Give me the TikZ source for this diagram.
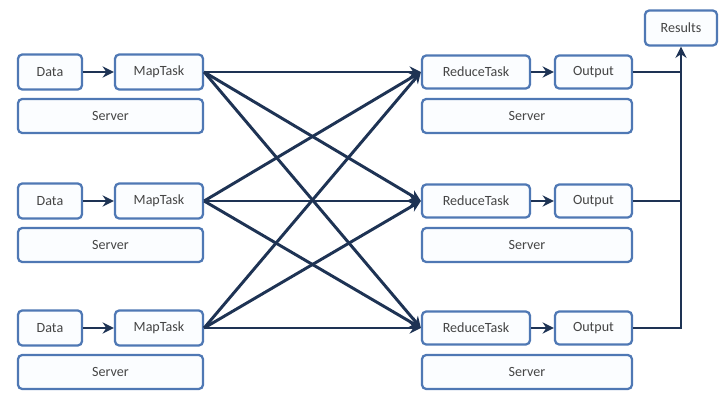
\documentclass[tikz,border=0pt]{standalone}
\usepackage{fontspec}
\setmainfont{Carlito}
\usetikzlibrary{arrows.meta,positioning}

\definecolor{boxline}{HTML}{4F78B4}
\definecolor{boxfill}{HTML}{FBFDFF}
\definecolor{wire}{HTML}{1E3354}
\definecolor{label}{HTML}{454545}

\begin{document}
\begin{tikzpicture}[x=0.025cm,y=-0.025cm]

\tikzset{box/.style={draw=boxline, fill=boxfill, line width=1.6pt, rounded corners=3pt,
                     inner sep=0pt, text=label,
                     font=\fontsize{10}{11}\selectfont},
         wire/.style={draw=wire, line width=2.1pt, -{Stealth[length=8pt,width=8pt]}}}

\useasboundingbox (0,0) rectangle (719,393);

% map side, one row per server
\foreach \n/\y in {1/72, 2/201, 3/328} {
  \node[box, minimum width=64*0.025cm, minimum height=35*0.025cm] (data\n) at (50,\y) {Data};
  \node[box, minimum width=88*0.025cm, minimum height=35*0.025cm] (map\n) at (159,\y) {MapTask};
  \node[box, minimum width=185*0.025cm, minimum height=34*0.025cm] (mserver\n) at (110.5,\y+44) {Server};
  \draw[wire] (data\n) -- (map\n);
}

% reduce side
\foreach \n/\y in {1/72, 2/201, 3/328} {
  \node[box, minimum width=108*0.025cm, minimum height=33*0.025cm] (reduce\n) at (476,\y) {ReduceTask};
  \node[box, minimum width=77*0.025cm, minimum height=33*0.025cm] (out\n) at (593.5,\y) {Output};
  \node[box, minimum width=210*0.025cm, minimum height=34*0.025cm] (rserver\n) at (527,\y+44) {Server};
  \draw[wire] (reduce\n) -- (out\n);
}

\node[box, minimum width=72*0.025cm, minimum height=35*0.025cm] (results) at (681,28) {Results};

% shuffle: every map task feeds every reduce task
\foreach \i in {1,2,3}
  \foreach \j in {1,2,3}
    \draw[wire] (map\i.east) -- (reduce\j.west);

% outputs gathered into the results
\draw[wire, -] (out1.east) -- (results.south |- out1.east);
\draw[wire, -] (out2.east) -- (results.south |- out2.east);
\draw[wire] (out3.east) -| (results.south);

\end{tikzpicture}
\end{document}
